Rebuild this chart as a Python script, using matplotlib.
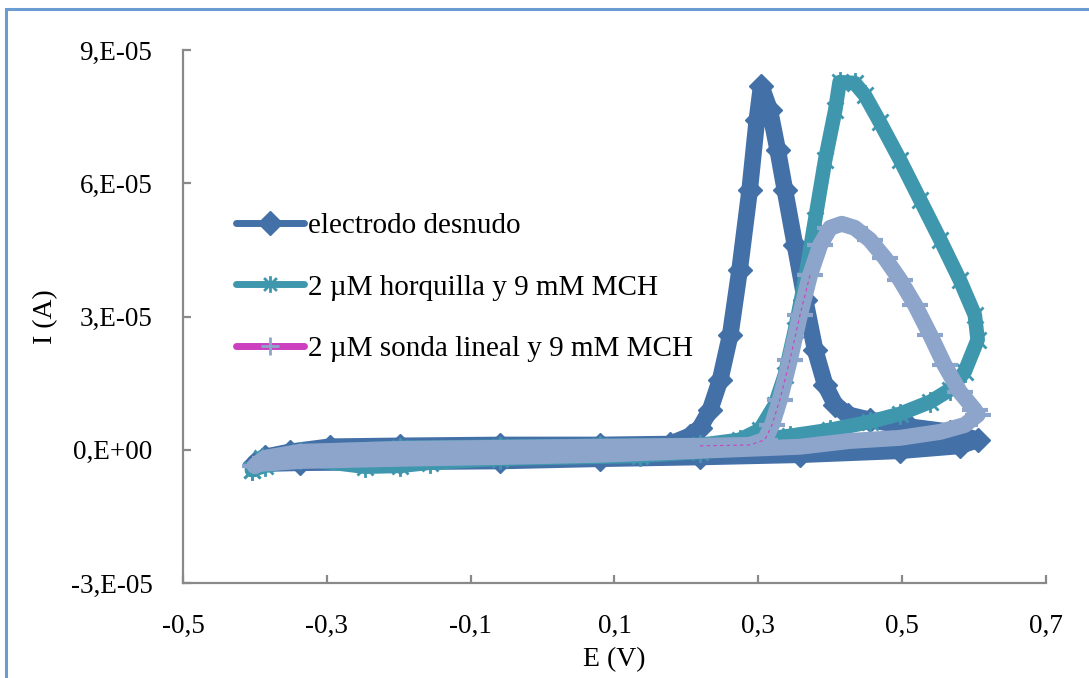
import matplotlib
matplotlib.use("Agg")
import matplotlib.pyplot as plt
from matplotlib.lines import Line2D
from matplotlib.patches import Rectangle
from matplotlib.path import Path
from matplotlib.ticker import FuncFormatter

# electrodo desnudo: E (V), I (uA), forward scan then reverse
E_desnudo = [-0.400, -0.386, -0.351, -0.296, -0.198, -0.059, 0.080, 0.177, 0.205, 0.219,
             0.233, 0.247, 0.261, 0.274, 0.288, 0.298, 0.304, 0.316, 0.327, 0.337,
             0.351, 0.365, 0.379, 0.393, 0.407, 0.425, 0.455, 0.511, 0.566, 0.605,
             0.580, 0.497, 0.358, 0.219, 0.080, -0.059, -0.198, -0.337, -0.400]
I_desnudo = [-2.9, -1.6, -0.45, 0.7, 0.9, 1.1, 1.1, 1.3, 3.15, 5.0,
             9.0, 15.8, 25.9, 40.5, 58.5, 74.3, 81.9, 76.5, 67.5, 58.5,
             46.1, 33.8, 22.5, 14.6, 10.1, 7.9, 6.75, 5.2, 4.05, 2.25,
             0.9, -0.2, -1.1, -1.6, -2.0, -2.5, -2.7, -2.9, -3.15]

# 2 uM horquilla y 9 mM MCH
E_horq = [-0.404, -0.390, -0.337, -0.198, -0.059, 0.080, 0.219, 0.274, 0.302, 0.323,
          0.337, 0.351, 0.365, 0.379, 0.393, 0.407, 0.413, 0.434, 0.448, 0.469,
          0.497, 0.525, 0.553, 0.580, 0.601, 0.605, 0.587, 0.566, 0.539, 0.497,
          0.455, 0.400, 0.344, 0.302, 0.219, 0.135, -0.059, -0.157, -0.198, -0.247,
          -0.337, -0.386, -0.404]
I_horq = [-4.5, -1.8, -0.45, 0.45, 0.7, 0.9, 1.1, 2.25, 4.5, 10.1,
          16.9, 27.0, 38.3, 51.8, 65.3, 76.5, 82.8, 82.6, 79.9, 73.8,
          65.3, 56.3, 47.3, 38.3, 30.4, 24.8, 17.6, 13.5, 10.8, 8.1,
          6.3, 4.5, 3.15, 2.25, -0.45, -1.35, -2.0, -2.9, -3.6, -3.8,
          -2.0, -3.6, -4.5]

# 2 uM sonda lineal y 9 mM MCH
E_sonda = [-0.400, -0.386, -0.337, -0.198, -0.059, 0.080, 0.219, 0.288, 0.309, 0.319,
           0.330, 0.344, 0.358, 0.372, 0.386, 0.400, 0.416, 0.434, 0.455, 0.476,
           0.497, 0.518, 0.539, 0.559, 0.580, 0.601, 0.605, 0.587, 0.553, 0.497,
           0.427, 0.358, 0.219, 0.080, -0.059, -0.198, -0.337, -0.393, -0.400]
I_sonda = [-3.6, -1.8, -0.45, 0.2, 0.45, 0.7, 0.9, 1.1, 2.25, 5.6,
           11.3, 20.3, 30.4, 39.4, 46.1, 50.0, 50.9, 50.0, 47.3, 43.2,
           38.3, 32.6, 25.9, 19.1, 13.1, 9.0, 7.9, 5.6, 4.05, 2.7,
           2.0, 0.7, -0.2, -1.1, -1.6, -2.0, -2.5, -3.15, -3.6]

labels = ["electrodo desnudo", "2 \u00b5M horquilla y 9 mM MCH", "2 \u00b5M sonda lineal y 9 mM MCH"]
x_ticks = [-0.5, -0.3, -0.1, 0.1, 0.3, 0.5, 0.7]
y_ticks = [-3e-5, 0, 3e-5, 6e-5, 9e-5]

c_dark = "#4470a8"
c_teal = "#3f97ae"
c_light = "#8ea5cb"
c_mag = "#cc3fbf"

# Excel style star: an x with a vertical bar
star = Path([(-1, -1), (1, 1), (-1, 1), (1, -1), (0, -1.3), (0, 1.3)],
            [Path.MOVETO, Path.LINETO, Path.MOVETO, Path.LINETO, Path.MOVETO, Path.LINETO])

plt.rcParams['font.family'] = ['Liberation Serif', 'DejaVu Serif']

fig = plt.figure(figsize=(10.89, 6.78), dpi=100)
ax = fig.add_axes([0.168, 0.140, 0.7925, 0.786])

# outer chart border
fig.patches.append(Rectangle((6 / 1089, -0.1), 1.2, 1 - 9.5 / 678 + 0.1, transform=fig.transFigure,
                             fill=False, edgecolor="#6a9bd3", linewidth=2.2))

s = 1e-6
ax.plot(E_desnudo, [v * s for v in I_desnudo], color=c_dark, lw=12, solid_joinstyle='round',
        solid_capstyle='round', marker='D', ms=12, mec=c_dark, mfc=c_dark)
ax.plot(E_horq, [v * s for v in I_horq], color=c_teal, lw=10.5, solid_joinstyle='round',
        solid_capstyle='round', marker=star, ms=15, mec=c_teal, mew=2)
ax.plot(E_sonda, [v * s for v in I_sonda], color=c_light, lw=11.5, solid_joinstyle='round',
        solid_capstyle='round', marker='_', ms=19, mec=c_light, mew=3)
ax.plot(E_sonda[6:14], [v * s for v in I_sonda[6:14]], color=c_mag, lw=0.8, ls=(0, (3, 3)))

ax.set_xlim(-0.5, 0.7)
ax.set_ylim(-3e-5, 9e-5)
ax.set_xticks(x_ticks)
ax.set_yticks(y_ticks)


def fmt_y(v, pos):
    if abs(v) < 1e-12:
        return "0,E+00"
    exp = int(f"{v:e}".split("e")[1])
    mant = v / 10 ** exp
    return f"{mant:.0f},E{exp:+03d}"


ax.yaxis.set_major_formatter(FuncFormatter(fmt_y))
ax.xaxis.set_major_formatter(FuncFormatter(lambda v, p: f"{v:.1f}".replace(".", ",")))

for sp in ["top", "right"]:
    ax.spines[sp].set_visible(False)
for sp in ["left", "bottom"]:
    ax.spines[sp].set_color("#898989")
    ax.spines[sp].set_linewidth(1.6)
ax.tick_params(direction='in', length=6, width=1.6, color="#898989", labelsize=19.5)
ax.tick_params(axis='y', pad=22)
ax.tick_params(axis='x', pad=22)

ax.set_xlabel("E (V)", fontsize=20, labelpad=6)
ax.set_ylabel("I (A)", fontsize=20, labelpad=9)

handles = [
    Line2D([], [], color=c_dark, lw=5, marker='D', ms=12, mec=c_dark, solid_capstyle='round'),
    Line2D([], [], color=c_teal, lw=5, marker=star, ms=12, mec=c_teal, mew=2, solid_capstyle='round'),
    Line2D([], [], color=c_mag, lw=5, marker='+', ms=13, mec=c_light, mew=2, solid_capstyle='round'),
]
ax.legend(handles, labels, loc='upper left', bbox_to_anchor=(0.062, 0.695), frameon=False,
          fontsize=21, handlelength=2.3, handletextpad=0.15, labelspacing=1.2, borderpad=0,
          borderaxespad=0)

plt.savefig("out.png", dpi=100)
